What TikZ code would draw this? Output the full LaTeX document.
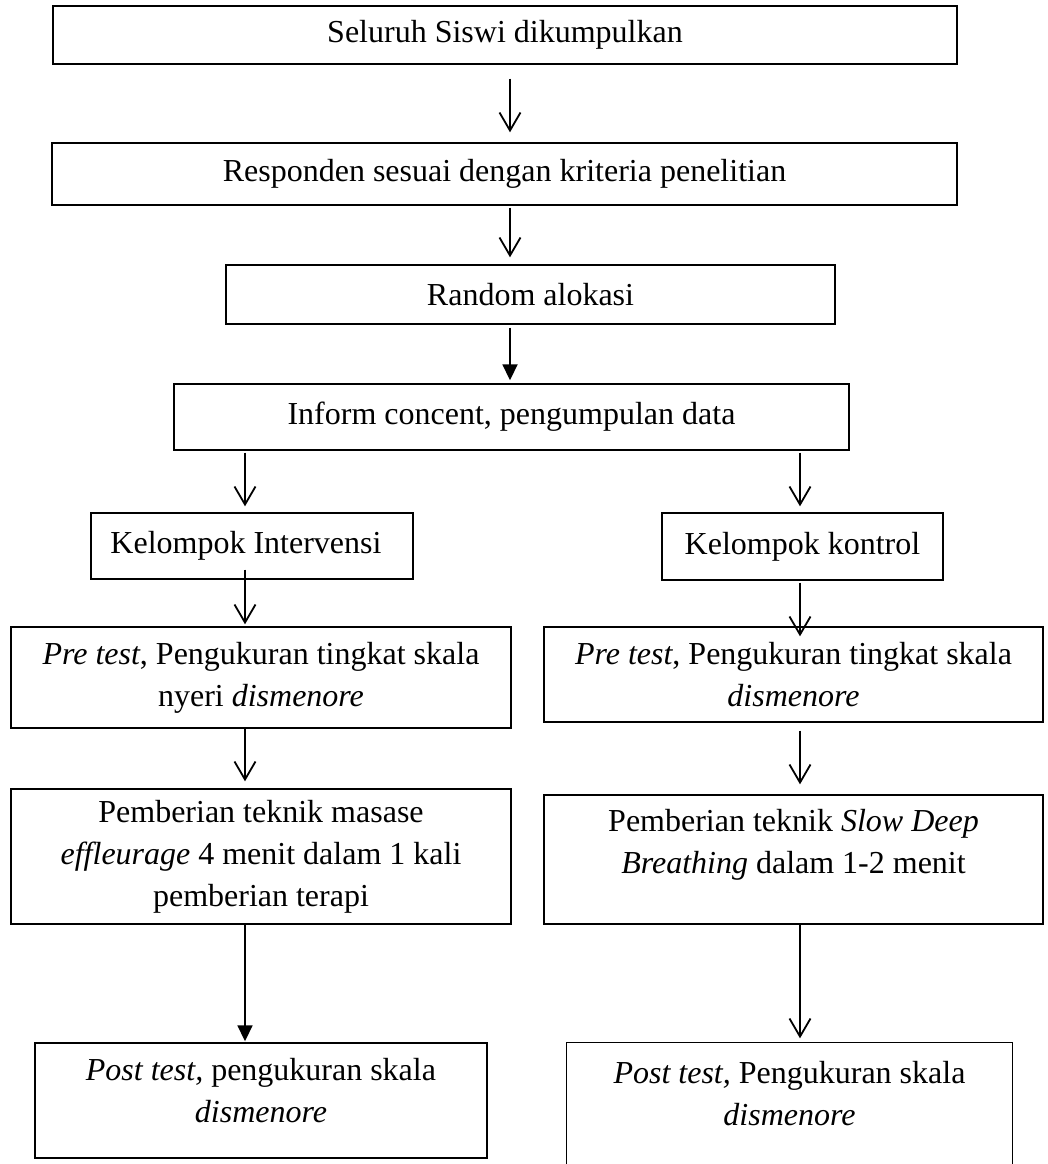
\documentclass[tikz,border=0pt]{standalone}
\usepackage{fontspec}
\setmainfont{Liberation Serif}
\usepackage{tikz}
\usetikzlibrary{positioning,arrows.meta,calc}

\begin{document}
\begin{tikzpicture}[
  x=1pt,y=-1pt,
  box/.style={draw=black,line width=1.4pt,inner sep=0pt,align=center,
              font=\fontsize{32}{42}\selectfont},
  openar/.style={-{Straight Barb[length=18pt,width=21pt,line width=1.8pt]},line width=1.8pt},
  fillar/.style={-{Triangle[length=16pt,width=15pt]},line width=1.8pt}
]
\useasboundingbox (0,0) rectangle (1047,1164);
\clip (0,0) rectangle (1047,1164);

\coordinate (cM) at (510,0);
\coordinate (cL) at (245,0);
\coordinate (cR) at (800,0);

\node[box,minimum width=904pt,minimum height=58pt] (all) at (505,35) {Seluruh Siswi dikumpulkan};
\node[box,minimum width=905pt,minimum height=62pt] (resp) at (504.5,174) {Responden sesuai dengan kriteria penelitian};
\node[box,minimum width=609pt,minimum height=59pt] (rand) at (530.5,294.5) {Random alokasi};
\node[box,minimum width=675pt,minimum height=66pt] (inf) at (511.5,417) {Inform concent, pengumpulan data};

\node[box,minimum width=322pt,minimum height=66pt] (ki) at (252,546) {Kelompok Intervensi\hspace{12pt}};
\node[box,minimum width=281pt,minimum height=67pt] (kk) at (802.5,546.5) {Kelompok kontrol};

\node[box,minimum width=500pt,minimum height=101pt] (pre1) at (261,677.5)
  {\textit{Pre test}, Pengukuran tingkat skala\\nyeri \textit{dismenore}};
\node[box,minimum width=499pt,minimum height=95pt] (pre2) at (793.5,674.5)
  {\textit{Pre test}, Pengukuran tingkat skala\\\textit{dismenore}};

\node[box,minimum width=500pt,minimum height=135pt] (mas) at (261,856.5)
  {Pemberian teknik masase\\\textit{effleurage} 4 menit dalam 1 kali\\pemberian terapi};
\node[box,minimum width=499pt,minimum height=129pt,text depth=36pt] (sdb) at (793.5,859.5)
  {Pemberian teknik \textit{Slow Deep}\\\textit{Breathing} dalam 1-2 menit};

\node[box,minimum width=452pt,minimum height=115pt,text depth=20pt] (post1) at (261,1100.5)
  {\textit{Post test,} pengukuran skala\\\textit{dismenore}};
\node[box,draw=none,minimum width=445pt,minimum height=102pt] (post2) at (789.5,1094)
  {\textit{Post test,} Pengukuran skala\\\textit{dismenore}};
\draw[line width=1.4pt] ([yshift=-60pt]post2.south west) |- (post2.north east)
  -- ([yshift=-60pt]post2.south east);

\draw[openar,shorten <=14pt,shorten >=10pt] (all.south -| cM) -- (resp.north -| cM);
\draw[openar,shorten <=2pt,shorten >=7pt] (resp.south -| cM) -- (rand.north -| cM);
\draw[fillar,shorten <=3pt,shorten >=3pt] (rand.south -| cM) -- (inf.north -| cM);
\draw[openar,shorten <=2pt,shorten >=6pt] (inf.south -| cL) -- (ki.north -| cL);
\draw[openar,shorten <=2pt,shorten >=6pt] (inf.south -| cR) -- (kk.north -| cR);
\draw[openar,shorten <=-10pt,shorten >=2pt] (ki.south -| cL) -- (pre1.north -| cL);
\draw[openar,shorten <=2pt,shorten >=-10pt] (kk.south -| cR) -- (pre2.north -| cR);
\draw[openar,shorten >=7pt] (pre1.south -| cL) -- (mas.north -| cL);
\draw[openar,shorten <=8pt,shorten >=10pt] (pre2.south -| cR) -- (sdb.north -| cR);
\draw[fillar,shorten >=1pt] (mas.south -| cL) -- (post1.north -| cL);
\draw[openar,shorten >=4pt] (sdb.south -| cR) -- (post2.north -| cR);
\end{tikzpicture}
\end{document}
